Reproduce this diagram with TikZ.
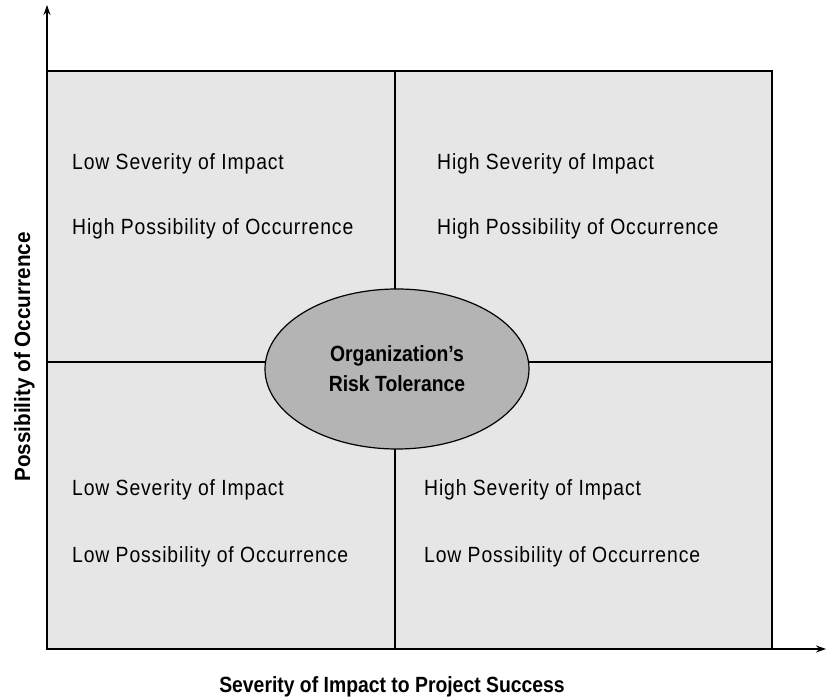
\documentclass[tikz,border=0pt]{standalone}
\usepackage{fontspec}
\setmainfont{Liberation Sans}
\newfontfamily\regfont[FakeStretch=0.88,LetterSpace=4]{Liberation Sans}
\newfontfamily\boldfont[FakeStretch=0.88]{Liberation Sans}
\newfontfamily\boldwide[FakeStretch=0.94]{Liberation Sans}
\usetikzlibrary{shapes.geometric,arrows.meta}
\definecolor{quadfill}{HTML}{E6E6E6}
\definecolor{ellfill}{HTML}{B4B4B4}
\tikzset{
  frame/.style={line width=1.2pt, draw=black},
  axis/.style={line width=1.2pt, -{Stealth[length=10pt,width=7pt]}},
  quadtext/.style={anchor=base west, inner sep=0pt, font=\regfont\fontsize{22pt}{26pt}\selectfont},
  axislabel/.style={anchor=base, inner sep=0pt, font=\boldfont\bfseries\fontsize{22pt}{26pt}\selectfont},
  tolerance/.style={ellipse, draw=black, line width=1.2pt, fill=ellfill, minimum width=264pt, minimum height=160pt, inner sep=0pt, align=center, font=\boldfont\bfseries\fontsize{22pt}{30pt}\selectfont}
}
\begin{document}
\begin{tikzpicture}[x=1pt,y=1pt]
\useasboundingbox (0,0) rectangle (828,699);
% frame corners
\coordinate (O) at (47,50);
\coordinate (TR) at (772,628);
\coordinate (ML) at (47,337);
\coordinate (MR) at (772,337);
\coordinate (MT) at (395,628);
\coordinate (MB) at (395,50);
\coordinate (ytip) at (47,694);
\coordinate (xtip) at (826,50);
% quadrants
\fill[quadfill] (O) rectangle (TR);
\draw[frame] (O) rectangle (TR);
\draw[frame] (ML) -- (MR);
\draw[frame] (MT) -- (MB);
% axes
\draw[axis] (O) -- (ytip);
\draw[axis] (O) -- (xtip);
% center ellipse
\node[tolerance] (tol) at (397,330) {Organization’s\\Risk Tolerance};
% quadrant texts
\node[quadtext] (tl1) at (72,529) {Low Severity of Impact};
\node[quadtext] (tl2) at (72,464) {High Possibility of Occurrence};
\node[quadtext] (tr1) at (437,529) {High Severity of Impact};
\node[quadtext] (tr2) at (437,464) {High Possibility of Occurrence};
\node[quadtext] (bl1) at (72,203) {Low Severity of Impact};
\node[quadtext] (bl2) at (72,136) {Low Possibility of Occurrence};
\node[quadtext] (br1) at (424,203) {High Severity of Impact};
\node[quadtext] (br2) at (424,136) {Low Possibility of Occurrence};
% axis labels
\node[axislabel] (xlabel) at (392,6) {Severity of Impact to Project Success};
\node[axislabel, font=\boldwide\bfseries\fontsize{22pt}{26pt}\selectfont, rotate=90] (ylabel) at (30,342) {Possibility of Occurrence};
\end{tikzpicture}
\end{document}
